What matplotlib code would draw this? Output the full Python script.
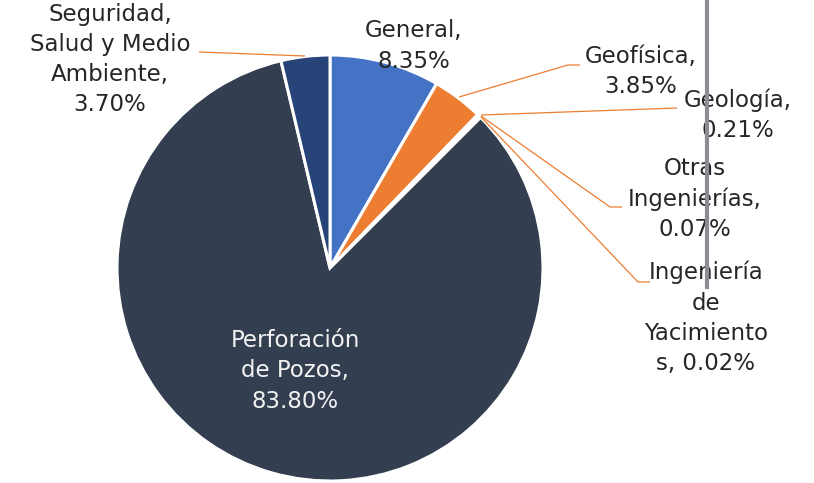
import matplotlib.pyplot as plt

# datos del gráfico
categories = ["General", "Geofísica", "Geología", "Otras Ingenierías",
              "Ingeniería de Yacimientos", "Perforación de Pozos",
              "Seguridad, Salud y Medio Ambiente"]
values = [8.35, 3.85, 0.21, 0.07, 0.02, 83.80, 3.70]
label_names = ["General,", "Geofísica,", "Geología,", "Otras\nIngenierías,",
               "Ingeniería\nde\nYacimiento\ns,", "Perforación\nde Pozos,",
               "Seguridad,\nSalud y Medio\nAmbiente,"]
colors = ["#4472C4", "#ED7D31", "#A5A5A5", "#FFC000", "#5B9BD5", "#333F50", "#264478"]

W, H = 814, 483

# posiciones de etiquetas (px) y líneas guía
label_pos = [(414, 46), (641, 71.5), (738, 115), (695, 199), (706, 318), (295, 371), (110, 59.5)]
leaders = {
    1: [(459, 97), (568, 65), (580, 65)],
    2: [(481, 115), (677, 108)],
    3: [(481, 116), (610, 207), (622, 207)],
    4: [(481, 117), (638, 282), (650, 282)],
    6: [(305, 56), (199, 52)],
}

fig = plt.figure(figsize=(W / 100, H / 100), dpi=100)
ax = fig.add_axes([0, 0, 1, 1])

ax.pie(values, colors=colors, startangle=90, counterclock=False,
       center=(330, H - 268), radius=213,
       wedgeprops=dict(edgecolor="white", linewidth=2.2))
ax.set_xlim(0, W)
ax.set_ylim(0, H)
ax.set_aspect("equal")
ax.axis("off")

for i, (name, val) in enumerate(zip(label_names, values)):
    x, y = label_pos[i]
    sep = " " if "Yacimiento" in name else "\n"
    txt = f"{name}{sep}{val:.2f}%"
    col = "#F2F2F2" if i == 5 else "#262626"
    ax.text(x, H - y, txt, ha="center", va="center", fontsize=16.5,
            color=col, linespacing=1.4)

for i, pts in leaders.items():
    xs = [p[0] for p in pts]
    ys = [H - p[1] for p in pts]
    ax.plot(xs, ys, color="#ED7D31", lw=0.9, solid_capstyle="butt")

# línea gris vertical
ax.plot([707, 707], [H, H - 287], color="#8A8D91", lw=3, zorder=10)

fig.savefig("out.png", dpi=100)
